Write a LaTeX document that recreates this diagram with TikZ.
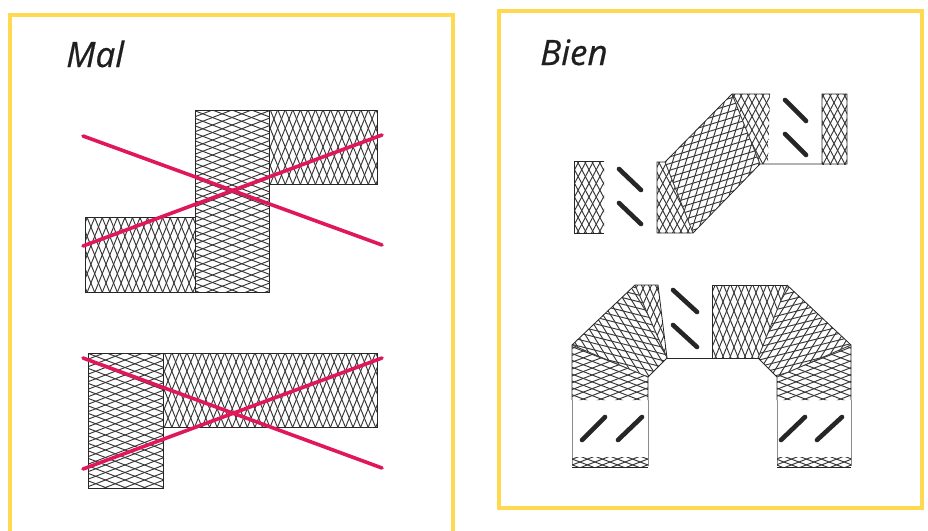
\documentclass[tikz,border=0pt]{standalone}
\usepackage{fontspec}
\setmainfont{Open Sans}
\newfontfamily\titlefont[FakeBold=0.5]{Open Sans}
\definecolor{frameyellow}{HTML}{FFD94F}
\definecolor{crossred}{HTML}{E0185A}
\tikzset{
  meshline/.style={line width=0.95pt,black!78},
  outline/.style={line width=0.8pt,black!85},
  seam/.style={line width=0.9pt,black!75},
  legline/.style={line width=0.6pt,black!45},
  framebox/.style={line width=3.4pt,frameyellow},
  cross/.style={line width=3.6pt,crossred,line cap=round},
  slash/.style={line width=4.6pt,black!85,line cap=round},
  title/.style={font=\titlefont\itshape\fontsize{35}{37}\selectfont,text=black!88,inner sep=0pt,anchor=base west}
}
% #1 closed path, #2 centre, #3 axis angle of the long diagonal, #4 half angle, #5 line spacing
\newcommand{\meshfill}[5]{%
  \begin{scope}
    \clip #1;
    \foreach \s in {-40,...,40}{
      \draw[meshline,shift={#2},rotate=#3+#4] (-320,\s*#5) -- (320,\s*#5);
      \draw[meshline,shift={#2},rotate=#3-#4] (-320,\s*#5) -- (320,\s*#5);
    }
  \end{scope}}
\begin{document}
\begin{tikzpicture}[x=1pt,y=-1pt]
\useasboundingbox (0,0) rectangle (928,530);
\fill[white] (0,0) rectangle (928,530);
% frames
\draw[framebox] (10,545) -- (10,15) -- (453,15) -- (453,545);
\draw[framebox] (499,11) rectangle (922,508);
\node[title] (mal) at (66,67) {Mal};
\node[title] (bien) at (540,65) {Bien};

% --- Mal, upper
\meshfill{(195,110) rectangle (269,292)}{(232,200)}{0}{21}{7}
\meshfill{(269,110) rectangle (377,184)}{(323,147)}{90}{22}{7}
\meshfill{(85,217) rectangle (195,292)}{(140,255)}{90}{22}{7}
\draw[outline] (195,110) rectangle (269,292);
\draw[outline] (269,110) rectangle (377,184);
\draw[outline] (85,217) rectangle (195,292);
\coordinate (a1) at (83,136); \coordinate (a2) at (382,245);
\coordinate (a3) at (83,246); \coordinate (a4) at (382,135);
\draw[cross] (a1) -- (a2);
\draw[cross] (a3) -- (a4);

% --- Mal, lower
\meshfill{(88,353) rectangle (163,488)}{(125,420)}{0}{21}{7}
\meshfill{(163,353) rectangle (377,427)}{(270,390)}{90}{22}{7}
\draw[outline] (88,353) rectangle (163,488);
\draw[outline] (163,353) rectangle (377,427);
\coordinate (b1) at (83,358); \coordinate (b2) at (382,468);
\coordinate (b3) at (83,469); \coordinate (b4) at (382,358);
\draw[cross] (b1) -- (b2);
\draw[cross] (b3) -- (b4);

% --- Bien, upper
\meshfill{(574,161) rectangle (604,233)}{(589,197)}{90}{28}{6.4}
\draw[outline] (604,161) -- (574,161) -- (574,233) -- (604,233);
\meshfill{(657,162) -- (665,162) -- (693,233) -- (657,233) -- cycle}{(670,197)}{90}{28}{6.4}
\meshfill{(665,162) -- (732,94) -- (760,164) -- (693,233) -- cycle}{(712,164)}{45}{28}{6.4}
\meshfill{(732,94) -- (770,94) -- (768,164) -- (760,164) -- cycle}{(752,130)}{90}{28}{6.4}
\meshfill{(822,94) rectangle (847,164)}{(834,130)}{90}{28}{6.4}
\draw[outline] (657,233) -- (657,162) -- (665,162) -- (732,94) -- (770,94);
\draw[outline] (657,233) -- (693,233) -- (760,164) -- (847,164) -- (847,94) -- (822,94) -- (822,164);
\draw[seam] (665,162) -- (693,233);
\draw[seam] (732,94) -- (760,164);
\draw[slash] (619,169) -- (641,190);
\draw[slash] (619,203) -- (641,224);
\draw[slash] (785,100) -- (806,121);
\draw[slash] (785,134) -- (806,155);

% --- Bien, lower: left leg
\meshfill{(572,345) -- (648,377) -- (648,400) -- (572,400) -- cycle}{(610,375)}{0}{21}{6.4}
\meshfill{(572,345) -- (635,285) -- (667,358) -- (648,377) -- cycle}{(620,330)}{-36}{22}{6.4}
\meshfill{(635,285) -- (658,285) -- (667,358) -- cycle}{(650,320)}{90}{24}{6.4}
\draw[outline] (572,400) -- (572,345) -- (635,285) -- (658,285) -- (667,358) -- (648,377) -- (648,400);
\draw[seam] (572,345) -- (648,377);
\draw[seam] (635,285) -- (667,358);
\draw[legline] (572,400) -- (572,466);
\draw[legline] (648,400) -- (648,466);
\meshfill{(572,457) rectangle (648,467)}{(610,462)}{0}{21}{5.4}
\draw[outline] (572,467) -- (648,467);
% middle
\meshfill{(712,285) -- (787,285) -- (758,358) -- (712,358) -- cycle}{(745,320)}{90}{22}{6.8}
\draw[outline] (712,358) -- (712,285) -- (787,285);
\draw[outline] (667,358) -- (758,358);
% right leg
\meshfill{(787,285) -- (851,345) -- (777,377) -- (758,358) -- cycle}{(800,330)}{36}{22}{6.4}
\meshfill{(851,345) -- (851,400) -- (777,400) -- (777,377) -- cycle}{(814,375)}{0}{21}{6.4}
\draw[outline] (787,285) -- (851,345) -- (851,400);
\draw[outline] (758,358) -- (777,377) -- (777,400);
\draw[seam] (787,285) -- (758,358);
\draw[seam] (851,345) -- (777,377);
\draw[legline] (777,400) -- (777,466);
\draw[legline] (851,400) -- (851,466);
\meshfill{(777,457) rectangle (851,467)}{(814,462)}{0}{21}{5.4}
\draw[outline] (777,467) -- (851,467);
% slashes
\draw[slash] (673,290) -- (697,312);
\draw[slash] (673,325) -- (697,347);
\draw[slash] (582,440) -- (605,417);
\draw[slash] (618,440) -- (642,417);
\draw[slash] (781,440) -- (805,417);
\draw[slash] (817,440) -- (842,417);
\end{tikzpicture}
\end{document}
